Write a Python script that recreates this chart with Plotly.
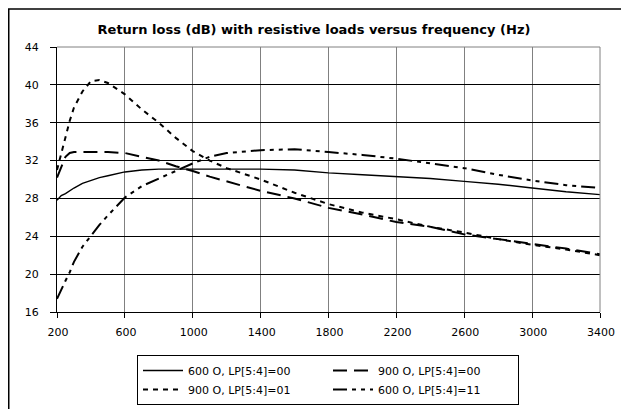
import plotly.graph_objects as go

# ---- data ----
freq = [200, 225, 250, 275, 300, 350, 400, 450, 500, 600, 700, 800, 900, 1000,
        1100, 1200, 1400, 1600, 1800, 2000, 2200, 2400, 2600, 2800, 3000, 3200, 3400]

rl_600_00 = [27.8, 28.3, 28.5, 28.8, 29.1, 29.6, 29.9, 30.2, 30.4, 30.8, 31.0, 31.1, 31.1, 31.1,
             31.1, 31.1, 31.1, 31.0, 30.7, 30.5, 30.3, 30.1, 29.8, 29.5, 29.1, 28.7, 28.4]
rl_900_00 = [30.2, 31.4, 32.4, 32.8, 32.9, 32.9, 32.9, 32.9, 32.9, 32.8, 32.4, 32.0, 31.4, 30.9,
             30.3, 29.8, 28.8, 28.0, 27.0, 26.3, 25.5, 25.0, 24.2, 23.7, 23.2, 22.7, 22.1]
rl_900_01 = [31.0, 32.8, 34.6, 36.2, 37.6, 39.3, 40.4, 40.5, 40.2, 39.0, 37.4, 36.0, 34.4, 33.0,
             32.0, 31.2, 30.0, 28.6, 27.4, 26.5, 25.8, 25.0, 24.4, 23.7, 23.1, 22.6, 22.0]
rl_600_11 = [17.4, 18.4, 19.3, 20.2, 21.3, 22.9, 24.1, 25.2, 26.2, 28.1, 29.3, 30.1, 30.9, 31.7,
             32.4, 32.8, 33.1, 33.2, 32.9, 32.6, 32.2, 31.7, 31.2, 30.5, 29.9, 29.4, 29.1]

series_names = ["600 O, LP[5:4]=00", "900 O, LP[5:4]=00",
                "900 O, LP[5:4]=01", "600 O, LP[5:4]=11"]
x_ticks = [200, 600, 1000, 1400, 1800, 2200, 2600, 3000, 3400]
y_ticks = [16, 20, 24, 28, 32, 36, 40, 44]
title_text = "Return loss (dB) with resistive loads versus frequency (Hz)"

# ---- layout geometry (pixels, figure coords; page body adds an 8px offset) ----
OFF = 8
W, H = 629 - OFF, 409 - OFF
L, R, T, B = 57 - OFF, 600 - OFF, 47 - OFF, 312 - OFF
pw, ph = R - L, B - T

def px_x(p):
    return (p - L) / pw

def px_y(p):
    return (B - p) / ph

FONT = "DejaVu Sans"

fig = go.Figure()
styles = [
    dict(color="black", width=1.4, dash="solid"),
    dict(color="black", width=2, dash="14px,7px"),
    dict(color="black", width=2, dash="5px,5px"),
    dict(color="black", width=2, dash="14px,5px,4px,5px,4px,5px"),
]
for name, ys, st in zip(series_names, [rl_600_00, rl_900_00, rl_900_01, rl_600_11], styles):
    fig.add_trace(go.Scatter(x=freq, y=ys, mode="lines", name=name, line=st))

fig.update_layout(
    width=W, height=H,
    margin=dict(l=L, r=W - R, t=T, b=H - B, pad=0, autoexpand=False),
    paper_bgcolor="white", plot_bgcolor="white",
    font=dict(family=FONT, size=11, color="black"),
    title=dict(text=title_text, x=(314 - OFF) / W, xanchor="center",
               y=1 - (29 - OFF) / H, yanchor="middle",
               font=dict(family=FONT, size=13, color="black", weight="bold")),
    showlegend=True,
    legend=dict(orientation="h", x=px_x(137 - OFF), xanchor="left", y=px_y(355 - OFF), yanchor="top",
                bordercolor="black", borderwidth=1, bgcolor="white",
                font=dict(family=FONT, size=11, color="black"),
                entrywidth=135, entrywidthmode="pixels", traceorder="normal",
                itemwidth=40, tracegroupgap=0),
)

fig.update_xaxes(range=[200, 3400], tickvals=x_ticks, ticktext=[str(v) for v in x_ticks],
                 showgrid=True, gridcolor="#808080", gridwidth=1,
                 showline=True, linecolor="black", linewidth=1,
                 ticks="outside", ticklen=5, tickcolor="black", ticklabelstandoff=5,
                 ticklabelshift=1, zeroline=False,
                 tickfont=dict(family=FONT, size=11, color="black"))
fig.update_yaxes(range=[16, 44], tickvals=y_ticks, ticktext=[str(v) for v in y_ticks],
                 showgrid=True, gridcolor="black", gridwidth=1,
                 showline=True, linecolor="black", linewidth=1,
                 ticks="outside", ticklen=6, tickcolor="black", ticklabelstandoff=9,
                 zeroline=False,
                 tickfont=dict(family=FONT, size=11, color="black"))

# gray plot-area border on top and right
fig.add_shape(type="line", xref="x domain", yref="y domain", x0=0, x1=1, y0=1, y1=1,
              line=dict(color="#808080", width=1), layer="above")
fig.add_shape(type="line", xref="x domain", yref="y domain", x0=1, x1=1, y0=0, y1=1,
              line=dict(color="#808080", width=1), layer="above")

# outer chart frame (left and top, cropped at right and bottom)
fig.add_shape(type="line", xref="paper", yref="paper",
              x0=px_x(0.75), x1=px_x(0.75), y0=px_y(1), y1=px_y(H + 5),
              line=dict(color="black", width=1.5))
fig.add_shape(type="line", xref="paper", yref="paper",
              x0=px_x(0), x1=px_x(W + 5), y0=px_y(1), y1=px_y(1),
              line=dict(color="black", width=1.5))

fig.write_html("out.html")
